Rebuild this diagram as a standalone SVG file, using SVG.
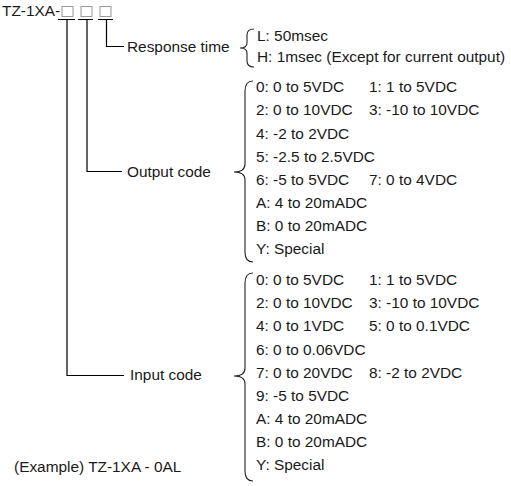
<svg xmlns="http://www.w3.org/2000/svg" width="511" height="486" viewBox="0 0 511 486">
<style>
text{font-family:"Liberation Sans",Arial,sans-serif;font-size:15.4px;fill:#1a1a1a}
.ln{stroke:#000;stroke-width:1.2;fill:none}
.br{stroke:#222;stroke-width:1.1;fill:none}
.bx{stroke:#999;stroke-width:1;fill:#fff}
</style>
<rect width="511" height="486" fill="#fff"/>
<g id="model">
<text x="2" y="16">TZ-1XA-</text>
<rect class="bx" x="62" y="6.5" width="11" height="10"/>
<rect class="bx" x="81" y="6.5" width="11" height="10"/>
<rect class="bx" x="100" y="6.5" width="11" height="10"/>
</g>
<g id="connectors">
<path class="ln" d="M58 19.5H75M78 19.5H93M98 19.5H113"/>
<path class="ln" d="M106.5 19.5V46.5H124"/>
<path class="ln" d="M87 19.5V171.5H122"/>
<path class="ln" d="M67 19.5V375.5H124"/>
</g>
<g id="response">
<text x="127" y="52">Response time</text>
<path class="br" d="M254 29Q247 29 247 35V43Q247 48 240 48Q247 48 247 53V61Q247 67 254 67"/>
<text x="257" y="41">L: 50msec</text>
<text x="257" y="62">H: 1msec (Except for current output)</text>
</g>
<g id="output">
<text x="127" y="177">Output code</text>
<path class="br" d="M253 81Q245 81 245 91V164Q245 172 234 172Q245 172 245 180V252Q245 262 253 262"/>
<text x="256" y="92">0: 0 to 5VDC</text><text x="369" y="92">1: 1 to 5VDC</text>
<text x="256" y="115">2: 0 to 10VDC</text><text x="369" y="115">3: -10 to 10VDC</text>
<text x="256" y="139">4: -2 to 2VDC</text>
<text x="256" y="162">5: -2.5 to 2.5VDC</text>
<text x="256" y="185">6: -5 to 5VDC</text><text x="369" y="185">7: 0 to 4VDC</text>
<text x="256" y="208">A: 4 to 20mADC</text>
<text x="256" y="231">B: 0 to 20mADC</text>
<text x="256" y="254">Y: Special</text>
</g>
<g id="input">
<text x="130" y="380">Input code</text>
<path class="br" d="M253 273Q245 273 245 283V368Q245 376 234 376Q245 376 245 384V471Q245 481 253 481"/>
<text x="256" y="285">0: 0 to 5VDC</text><text x="369" y="285">1: 1 to 5VDC</text>
<text x="256" y="308">2: 0 to 10VDC</text><text x="369" y="308">3: -10 to 10VDC</text>
<text x="256" y="331">4: 0 to 1VDC</text><text x="369" y="331">5: 0 to 0.1VDC</text>
<text x="256" y="355">6: 0 to 0.06VDC</text>
<text x="256" y="378">7: 0 to 20VDC</text><text x="369" y="378">8: -2 to 2VDC</text>
<text x="256" y="401">9: -5 to 5VDC</text>
<text x="256" y="424">A: 4 to 20mADC</text>
<text x="256" y="447">B: 0 to 20mADC</text>
<text x="256" y="470">Y: Special</text>
</g>
<g id="example">
<text x="14" y="472">(Example) TZ-1XA - 0AL</text>
</g>
</svg>
